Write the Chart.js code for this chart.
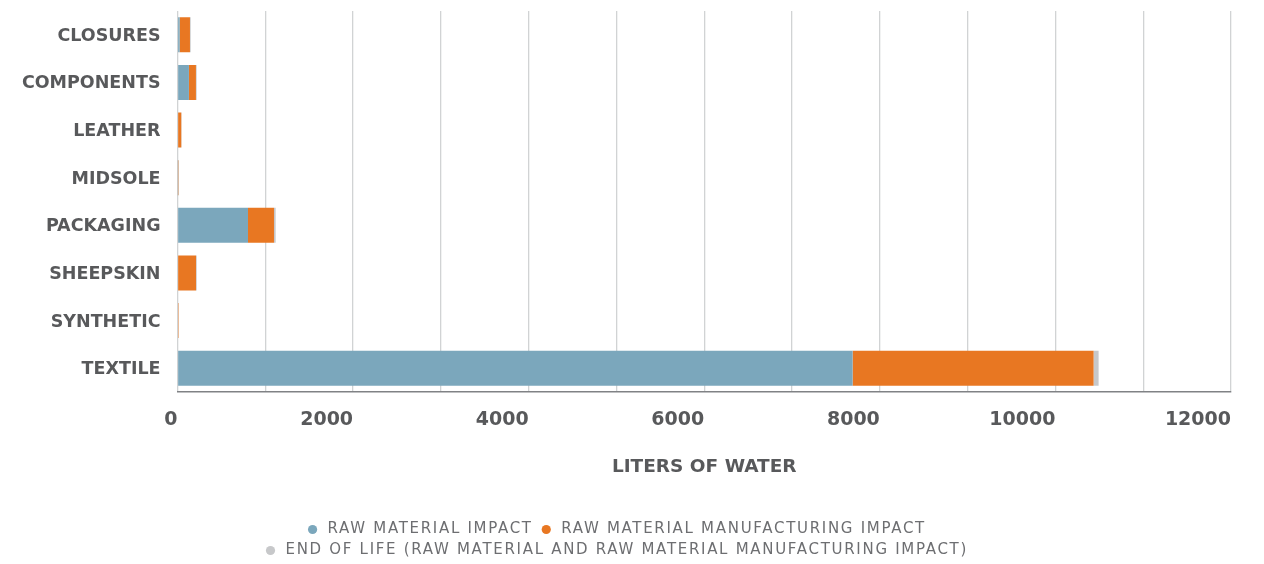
<!DOCTYPE html>
<html>
<head>
<meta charset="utf-8">
<script src="https://cdn.jsdelivr.net/npm/chart.js@4.4.1/dist/chart.umd.min.js"></script>
<style>
  html, body { margin: 0; padding: 0; background: #ffffff; }
  #wrap { width: 1264px; height: 564px; position: relative; }
</style>
</head>
<body>
<div id="wrap"><canvas id="c" width="1264" height="564"></canvas></div>
<script>
const categories = ['CLOSURES', 'COMPONENTS', 'LEATHER', 'MIDSOLE', 'PACKAGING', 'SHEEPSKIN', 'SYNTHETIC', 'TEXTILE'];
const rawMaterialImpact = [25, 130, 0, 4, 803, 0, 0, 7690];
const rawMaterialManufacturingImpact = [117, 80, 43, 6, 296, 211, 12, 2745];
const endOfLifeImpact = [8, 8, 4, 2, 19, 8, 2, 57];
const seriesNames = ['RAW MATERIAL IMPACT', 'RAW MATERIAL MANUFACTURING IMPACT', 'END OF LIFE (RAW MATERIAL AND RAW MATERIAL MANUFACTURING IMPACT)'];
const xMin = 0, xMax = 12000, xStep = 1000, xLabelStep = 2000;
const axisTitle = 'LITERS OF WATER';

const colors = ['#7ba7bc', '#e87722', '#c7c8ca'];
const labelColor = '#58595b';

// Legend tweaks: wider letter spacing and a narrower wrap width so it breaks into two rows like the original.
const LEGEND_SPACING = '1.7px';
const legendTweak = {
  id: 'legendTweak',
  afterInit(chart) {
    const lg = chart.legend;
    if (!lg) return;
    const origFitRows = lg._fitRows;
    lg._fitRows = function (...args) {
      const m = this.maxWidth;
      this.maxWidth = Math.min(m, 900);
      const r = origFitRows.apply(this, args);
      this.maxWidth = m;
      return r;
    };
    const origFit = lg.fit;
    lg.fit = function (...args) {
      this.ctx.letterSpacing = LEGEND_SPACING;
      const r = origFit.apply(this, args);
      this.ctx.letterSpacing = '0px';
      return r;
    };
    const origDraw = lg.draw;
    lg.draw = function (...args) {
      this.ctx.letterSpacing = LEGEND_SPACING;
      const r = origDraw.apply(this, args);
      this.ctx.letterSpacing = '0px';
      return r;
    };
  }
};

new Chart(document.getElementById('c'), {
  type: 'bar',
  data: {
    labels: categories,
    datasets: [
      { label: seriesNames[0], data: rawMaterialImpact, backgroundColor: colors[0] },
      { label: seriesNames[1], data: rawMaterialManufacturingImpact, backgroundColor: colors[1] },
      { label: seriesNames[2], data: endOfLifeImpact, backgroundColor: colors[2] }
    ]
  },
  plugins: [legendTweak],
  options: {
    indexAxis: 'y',
    responsive: false,
    animation: false,
    devicePixelRatio: 1,
    barPercentage: 0.735,
    categoryPercentage: 1,
    layout: { padding: { top: 11, right: 33, bottom: -4, left: 0 } },
    plugins: {
      tooltip: { enabled: false },
      legend: {
        position: 'bottom',
        labels: {
          usePointStyle: true,
          pointStyle: 'circle',
          boxWidth: 16,
          boxHeight: 6.5,
          padding: 6,
          color: '#6d6e71',
          font: { family: 'DejaVu Sans', size: 15, weight: 'normal' }
        }
      }
    },
    scales: {
      x: {
        stacked: true,
        min: xMin,
        max: xMax,
        afterFit: s => { s.height = 124; },
        ticks: {
          stepSize: xStep,
          autoSkip: false,
          maxRotation: 0,
          align: 'end',
          padding: 17,
          color: labelColor,
          font: { family: 'DejaVu Sans', size: 19, weight: 'bold' },
          callback: v => (v % xLabelStep === 0 ? String(v) : '')
        },
        grid: { color: '#d1d3d4', lineWidth: 1.3, drawTicks: false },
        border: { display: true, color: '#808285', width: 1.5 },
        title: {
          display: true,
          text: axisTitle,
          color: labelColor,
          font: { family: 'DejaVu Sans', size: 18.5, weight: 'bold' },
          padding: { top: 4, bottom: 38 }
        }
      },
      y: {
        stacked: true,
        afterFit: s => { s.width = 177.5; s.paddingTop = 0; s.paddingBottom = 0; },
        ticks: {
          padding: 17,
          labelOffset: 1.5,
          color: labelColor,
          font: { family: 'DejaVu Sans', size: 17.5, weight: 'bold' }
        },
        grid: { display: false, drawTicks: false },
        border: { display: false }
      }
    }
  }
});
</script>
</body>
</html>
